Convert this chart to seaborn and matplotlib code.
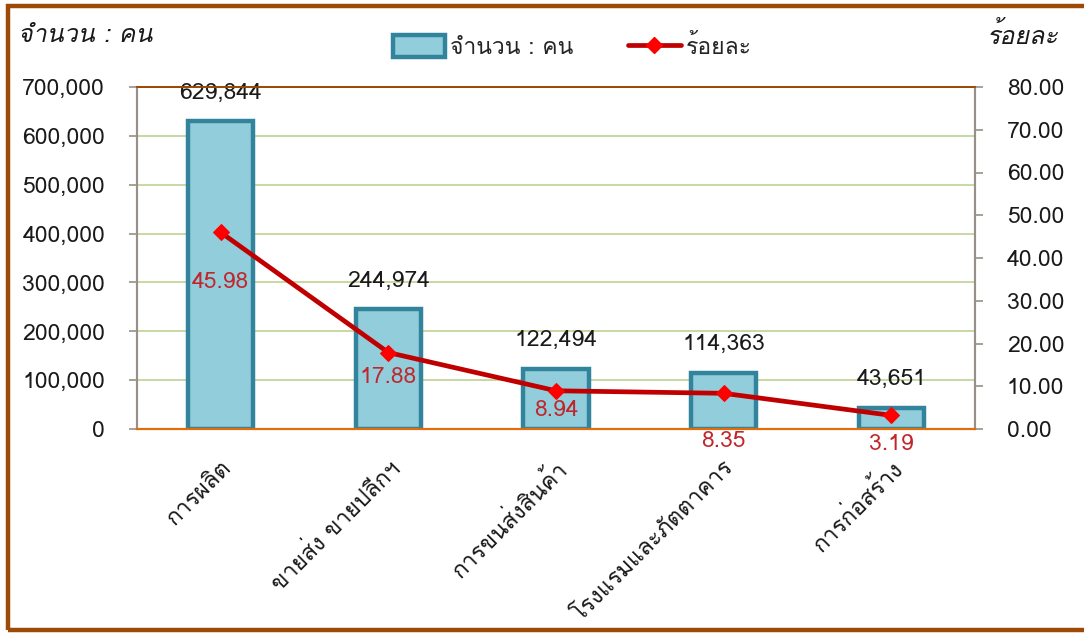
import matplotlib
matplotlib.use('Agg')
import matplotlib.pyplot as plt
import seaborn as sns
import numpy as np
from matplotlib import font_manager
from matplotlib.ft2font import FT2Font
from matplotlib.patches import Patch, Rectangle
from matplotlib.lines import Line2D
from matplotlib.ticker import FuncFormatter, MultipleLocator

# Data
categories = ['การผลิต', 'ขายส่ง ขายปลีกฯ', 'การขนส่งสินค้า', 'โรงแรมและภัตตาคาร', 'การก่อสร้าง']
counts = [629844, 244974, 122494, 114363, 43651]
percents = [45.98, 17.88, 8.94, 8.35, 3.19]


def find_thai_font():
    """
    Look for an installed font that has Thai glyphs.
    """
    for path in sorted(font_manager.findSystemFonts()):
        try:
            f = FT2Font(path)
            if 0x0E01 in f.get_charmap() and 0x0E33 in f.get_charmap():
                font_manager.fontManager.addfont(path)
                return font_manager.FontProperties(fname=path).get_name()
        except Exception:
            pass
    return None


sns.set_theme(style='white')
thai_font = find_thai_font()
families = ['DejaVu Sans']
if thai_font:
    families = [thai_font, 'DejaVu Sans']
plt.rcParams['font.family'] = families

bar_fill = '#92CDDC'
bar_edge = '#31849B'
line_color = '#C00000'
marker_color = '#FF0000'
label_red = '#C0272D'
grid_color = '#C3D69B'
axis_gray = '#998F88'
orange = '#E36C09'
brown = '#9C4A06'
text_color = '#1a1a1a'
fs = 16.5

fig = plt.figure(figsize=(10.84, 6.33), dpi=100)
ax1 = fig.add_axes([137 / 1084, 1 - 429 / 633, (975 - 137) / 1084, (429 - 87) / 633])

x = np.arange(len(categories))
sns.barplot(x=categories, y=counts, ax=ax1, color=bar_fill, edgecolor=bar_edge,
            linewidth=3.2, width=0.39, saturation=1, zorder=2)
ax1.set_ylim(0, 700000)
ax1.set_xlim(-0.5, len(categories) - 0.5)
ax1.yaxis.set_major_locator(MultipleLocator(100000))
ax1.yaxis.set_major_formatter(FuncFormatter(lambda v, p: f'{int(v):,}'))
ax1.set_axisbelow(True)
ax1.yaxis.grid(True, color=grid_color, linewidth=1.3)
ax1.xaxis.grid(False)
ax1.set_xlabel('')
ax1.set_ylabel('')

for xi, c in zip(x, counts):
    ax1.annotate(f'{c:,}', (xi, c), xytext=(0, 20.5), textcoords='offset points',
                 ha='center', va='center', fontsize=fs, color=text_color)

ax1.set_xticks(x)
ax1.set_xticklabels(categories, rotation=45, ha='right', rotation_mode='anchor',
                    fontsize=fs, color=text_color)
ax1.tick_params(axis='x', length=0, pad=20)
ax1.tick_params(axis='y', length=6, width=1.2, color=axis_gray, direction='out',
                left=True, labelsize=fs, labelcolor=text_color, pad=17)

ax2 = ax1.twinx()
sns.lineplot(x=x, y=percents, ax=ax2, color=line_color, linewidth=3.4,
             marker='D', markersize=8.5, markerfacecolor=marker_color,
             markeredgecolor=marker_color, zorder=5)
ax2.set_ylim(0, 80)
ax2.yaxis.set_major_locator(MultipleLocator(10))
ax2.yaxis.set_major_formatter(FuncFormatter(lambda v, p: f'{v:.2f}'))
ax2.set_ylabel('')
ax2.tick_params(axis='y', length=6, width=1.2, color=axis_gray, direction='out',
                right=True, labelsize=fs, labelcolor=text_color, pad=17)
ax2.grid(False)

# percent labels, offsets in points below each marker
pct_offsets = [-36, -18, -14, -35, -21]
for xi, p, off in zip(x, percents, pct_offsets):
    ax2.annotate(f'{p:.2f}', (xi, p), xytext=(0, off), textcoords='offset points',
                 ha='center', va='center', fontsize=fs, color=label_red)

for ax in (ax1, ax2):
    ax.spines['left'].set_color(axis_gray)
    ax.spines['right'].set_color(axis_gray)
    ax.spines['left'].set_linewidth(1.5)
    ax.spines['right'].set_linewidth(1.5)
    ax.spines['top'].set_color(brown)
    ax.spines['top'].set_linewidth(1.3)
    ax.spines['bottom'].set_color(orange)
    ax.spines['bottom'].set_linewidth(1.5)

# axis titles
fig.text(18 / 1084, 1 - 36 / 633, 'จำนวน : คน', fontsize=18, style='italic',
         ha='left', va='center', color=text_color)
fig.text(1058 / 1084, 1 - 36 / 633, 'ร้อยละ', fontsize=18, style='italic',
         ha='right', va='center', color=text_color)

handles = [Patch(facecolor=bar_fill, edgecolor=bar_edge, linewidth=3.2),
           Line2D([0], [0], color=line_color, linewidth=3.4, marker='D',
                  markersize=8.5, markerfacecolor=marker_color, markeredgecolor=marker_color)]
fig.legend(handles, ['จำนวน : คน', 'ร้อยละ'], loc='center', bbox_to_anchor=(572 / 1084, 1 - 47 / 633),
           ncol=2, frameon=False, fontsize=16.5, handlelength=2.3, handleheight=1.1,
           handletextpad=0.2, columnspacing=2.4)

# outer brown frame
fig.patches.append(Rectangle((8 / 1084, 3 / 633), 1.2, 1 - 9 / 633, transform=fig.transFigure,
                             fill=False, edgecolor=brown, linewidth=3.2))

fig.savefig('out.png', dpi=100)
